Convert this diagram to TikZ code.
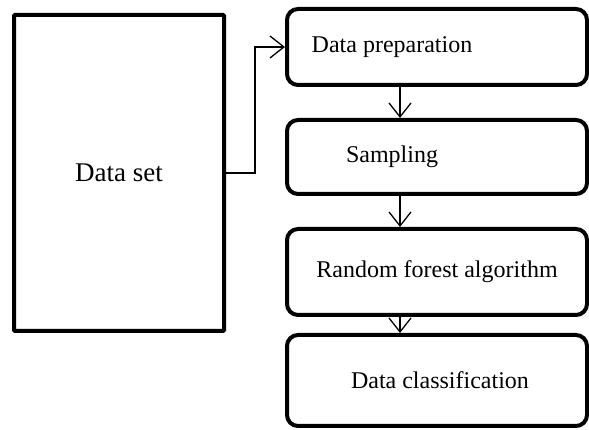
\documentclass[tikz,border=0pt]{standalone}
\usepackage{fontspec}
\setmainfont{Liberation Serif}
\usetikzlibrary{arrows.meta}

\begin{document}
\begin{tikzpicture}[x=1pt, y=1pt,
    every node/.style={font=\fontsize{24}{28}\selectfont},
    source/.style={draw, line width=4pt, rounded corners=1pt, minimum width=210pt, minimum height=316pt},
    stage/.style={draw, line width=4pt, rounded corners=11pt, minimum width=300pt},
    flow/.style={line width=1.3pt, -{Straight Barb[length=14pt, width=22pt, line width=1.3pt]}}]
    \useasboundingbox (0,0) rectangle (589,430);

    \node[source, font=\fontsize{27}{31}\selectfont] (set) at (119,257) {Data set};

    \node[stage, minimum height=76pt] (prep) at (437,383) {Data preparation\hspace*{90pt}};
    \node[stage, minimum height=74pt] (samp) at (437,273) {Sampling\hspace*{90pt}};
    \node[stage, minimum height=86pt] (rf) at (437,158) {Random forest algorithm};
    \node[stage, minimum height=91pt] (cls) at (437,49.5) {\hspace*{6pt}Data classification};

    \coordinate (bend) at (255,257);

    \draw[flow] (set.east) -- (bend) |- (prep.west);
    \draw[flow] ([xshift=-37pt]prep.south) -- ([xshift=-37pt]samp.north);
    \draw[flow] ([xshift=-37pt]samp.south) -- ([xshift=-37pt]rf.north);
    \draw[flow] ([xshift=-37pt]rf.south) -- ([xshift=-37pt]cls.north);
\end{tikzpicture}
\end{document}
